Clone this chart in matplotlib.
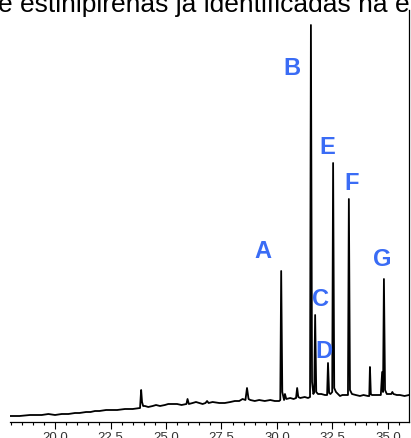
import matplotlib
matplotlib.use('Agg')
import matplotlib.pyplot as plt
from matplotlib.ticker import MultipleLocator, FormatStrFormatter

plt.rcParams['font.family'] = ['Liberation Sans', 'DejaVu Sans']

# chromatogram trace (time [min], signal [a.u.])
tempo = [18.00, 18.40, 18.87, 19.20, 19.40, 19.70, 20.00, 20.30, 20.60, 20.90, 21.10,
         21.40, 21.60, 21.80, 22.00, 22.30, 22.50, 22.80, 23.15, 23.50,
         23.83, 23.88, 23.92, 23.97, 24.05, 24.20, 24.40, 24.55, 24.73, 24.95, 25.10,
         25.30, 25.50, 25.70, 25.92, 25.97, 26.03, 26.20, 26.35, 26.50, 26.65, 26.78,
         26.85, 26.92, 27.10, 27.40, 27.65, 27.90, 28.10, 28.30, 28.45, 28.58,
         28.65, 28.72, 28.80, 29.00, 29.20, 29.45, 29.70, 29.90, 30.10, 30.15, 30.19,
         30.24, 30.32, 30.36, 30.42, 30.60, 30.75, 30.86, 30.91, 30.96, 31.05, 31.25,
         31.40, 31.49, 31.53, 31.58, 31.64, 31.68, 31.72, 31.77, 31.85, 32.00, 32.16,
         32.26, 32.30, 32.35, 32.41, 32.49, 32.53, 32.58, 32.66, 32.84, 32.95, 33.10,
         33.20, 33.24, 33.29, 33.38, 33.55, 33.74, 33.90, 34.10, 34.16, 34.19, 34.23,
         34.28, 34.45, 34.68, 34.74, 34.78, 34.82, 34.87, 34.95, 35.15, 35.20, 35.25,
         35.40, 35.54, 35.75, 35.95]
sinal = [6, 6, 7, 7, 7, 8, 7, 8, 8, 9, 9,
         10, 10, 11, 11, 12, 12, 12, 13, 13,
         14, 32, 20, 16, 16, 15, 16, 17, 16, 17, 18,
         18, 18, 17, 18, 23, 18, 19, 20, 19, 18, 19,
         21, 19, 20, 19, 19, 20, 21, 21, 23, 22,
         34, 23, 22, 21, 22, 21, 22, 21, 21, 22, 151,
         30, 22, 28, 23, 24, 23, 24, 34, 25, 24, 25,
         24, 25, 397, 40, 28, 30, 107, 30, 28, 28, 27,
         27, 59, 29, 28, 30, 259, 34, 30, 26, 27, 27,
         27, 223, 32, 28, 27, 26, 27, 26, 26, 55, 28,
         27, 27, 27, 50, 30, 143, 32, 28, 28, 30, 28,
         27, 27, 26, 27]

# peak letters and where they sit
letras = ['A', 'B', 'C', 'D', 'E', 'F', 'G']
letras_t = [29.37, 30.68, 31.98, 32.12, 32.26, 33.38, 34.73]
letras_y = [170, 354, 123, 70, 275, 239, 162]

fig = plt.figure(figsize=(4.11, 4.38), dpi=100)
ax = fig.add_axes([10/411, 16/438, 399/411, 412/438])
ax.plot(tempo, sinal, color='black', lw=1.3)

for l, t, yy in zip(letras, letras_t, letras_y):
    ax.text(t, yy, l, color='#3a6cf5', fontsize=17, fontweight='bold',
            ha='center', va='center')

ax.set_xlim(17.97, 35.95)
ax.set_ylim(0, 412)
ax.xaxis.set_major_locator(MultipleLocator(2.5))
ax.xaxis.set_minor_locator(MultipleLocator(0.5))
ax.xaxis.set_major_formatter(FormatStrFormatter('%.1f'))
ax.tick_params(axis='x', which='major', direction='out', length=5, width=0.8,
               labelsize=9.5, pad=2, labelcolor='#333333')
ax.tick_params(axis='x', which='minor', direction='out', length=2.5, width=0.8)
ax.set_yticks([])
ax.spines['top'].set_visible(False)
ax.spines['left'].set_visible(False)
ax.spines['right'].set_linewidth(0.9)
ax.spines['bottom'].set_linewidth(0.9)

fig.text(-0.005, 1 - 12/438, 'e estinipirenas já identificadas na e',
         fontsize=19, ha='left', va='baseline', color='black')

fig.savefig('out.png', dpi=100)
